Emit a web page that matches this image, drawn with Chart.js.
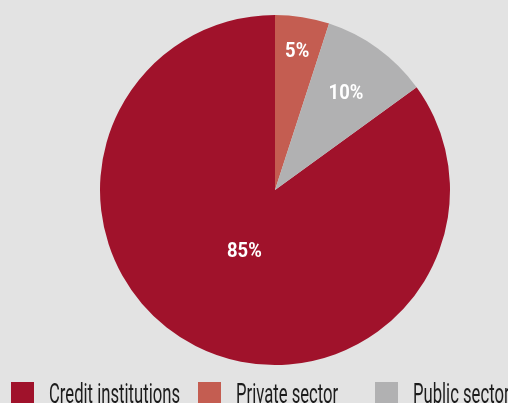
<!DOCTYPE html>
<html>
<head>
<meta charset="utf-8">
<script src="https://cdn.jsdelivr.net/npm/chart.js@4"></script>
<style>
  html, body { margin: 0; padding: 0; background: #e3e3e3; overflow: hidden; }
  #wrap { position: relative; width: 508px; height: 403px; }
  #chartBox { position: absolute; left: 0; top: 0; width: 508px; height: 380px; }
  #legend { position: absolute; left: 0; top: 382px; width: 520px; height: 40px; }
  .item { position: absolute; top: 0; white-space: nowrap; font-family: Roboto, sans-serif; font-size: 28px; color: #1c1c1c; line-height: 28px; }
  .item .box { position: absolute; left: 0; top: 0; width: 23px; height: 23px; }
  .item .txt { position: absolute; left: 38px; top: -2px; transform-origin: 0 0; }
</style>
</head>
<body>
<div id="wrap">
  <div id="chartBox"><canvas id="pie"></canvas></div>
  <div id="legend"></div>
</div>
<script>
const sectors = ["Credit institutions", "Private sector", "Public sector"];
const shares = [85, 5, 10];
const shareLabels = ["85%", "5%", "10%"];
const colors = ["#a0122b", "#c45d51", "#b1b1b2"];

// how far out (fraction of radius) each percentage sits
const labelDepth = [0.385, 0.81, 0.69];
const legendLeft = [11, 198, 375];

const sliceLabels = {
  id: "sliceLabels",
  afterDatasetsDraw(chart) {
    const { ctx } = chart;
    const arcs = chart.getDatasetMeta(0).data;
    ctx.save();
    ctx.fillStyle = "#ffffff";
    ctx.font = "bold 20px Roboto, sans-serif";
    ctx.textAlign = "center";
    ctx.textBaseline = "alphabetic";
    arcs.forEach((arc, i) => {
      const mid = (arc.startAngle + arc.endAngle) / 2;
      const r = arc.outerRadius * labelDepth[i];
      ctx.save();
      // baseline sits half a cap height below the anchor point
      ctx.translate(arc.x + Math.cos(mid) * r, arc.y + Math.sin(mid) * r + 7);
      ctx.scale(0.92, 1);
      ctx.fillText(shareLabels[i], 0, 0);
      ctx.restore();
    });
    ctx.restore();
  }
};

new Chart(document.getElementById("pie"), {
  type: "pie",
  data: {
    labels: sectors,
    datasets: [{ data: shares, backgroundColor: colors, borderWidth: 0 }]
  },
  options: {
    responsive: true,
    maintainAspectRatio: false,
    animation: false,
    rotation: 54,
    layout: { padding: { left: 100, right: 58, top: 15, bottom: 15 } },
    plugins: { legend: { display: false }, tooltip: { enabled: false } }
  },
  plugins: [sliceLabels]
});

// legend row underneath the pie, text squeezed so "Credit institutions" spans ~131px
const measure = document.createElement("canvas").getContext("2d");
measure.font = "28px Roboto";
const squeeze = 131 / measure.measureText(sectors[0]).width;

const legendDiv = document.getElementById("legend");
sectors.forEach((name, i) => {
  const item = document.createElement("div");
  item.className = "item";
  item.style.left = legendLeft[i] + "px";
  item.innerHTML = `<span class="box" style="background:${colors[i]}"></span><span class="txt" style="transform:scaleX(${squeeze})">${name}</span>`;
  legendDiv.appendChild(item);
});
</script>
</body>
</html>
